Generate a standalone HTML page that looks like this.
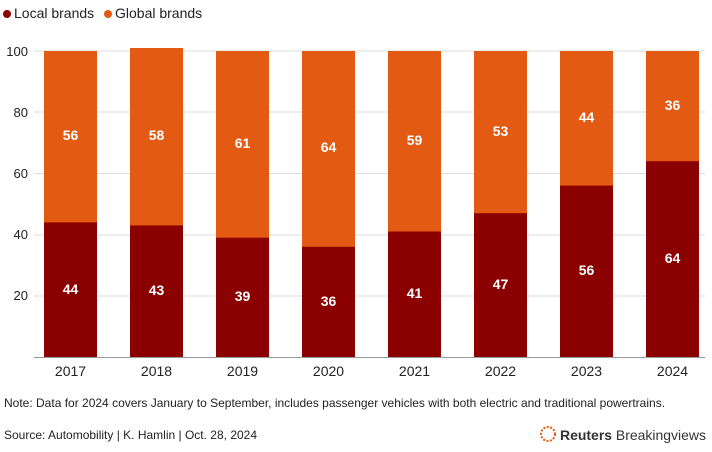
<!DOCTYPE html><html><head><style>body{margin:0;background:#fff}svg{display:block;font-family:"Liberation Sans",Arial,sans-serif}</style></head><body>
<svg width="712" height="452" xmlns="http://www.w3.org/2000/svg">
<circle cx="7" cy="14" r="4" fill="#8b0000"/><text x="14" y="18" font-size="14" fill="#222">Local brands</text>
<circle cx="108" cy="14" r="4" fill="#e35a12"/><text x="115" y="18" font-size="14" fill="#222">Global brands</text>
<g stroke="#ddd" stroke-width="1">
<line x1="34" x2="705" y1="51" y2="51"/><line x1="34" x2="705" y1="112" y2="112"/><line x1="34" x2="705" y1="173.5" y2="173.5"/><line x1="34" x2="705" y1="235" y2="235"/><line x1="34" x2="705" y1="296" y2="296"/></g>
<g font-size="13" fill="#222" text-anchor="end">
<text x="28" y="56">100</text><text x="28" y="117">80</text><text x="28" y="178">60</text><text x="28" y="239">40</text><text x="28" y="300">20</text></g>
<g fill="#e35a12">
<rect x="44" y="51" width="53" height="172"/><rect x="130" y="48" width="53" height="178"/><rect x="216" y="51" width="53" height="187"/><rect x="302" y="51" width="53" height="196"/><rect x="388" y="51" width="53" height="181"/><rect x="474" y="51" width="53" height="163"/><rect x="560" y="51" width="53" height="135"/><rect x="646" y="51" width="53" height="111"/></g>
<g fill="#8b0000">
<rect x="44" y="222.4" width="53" height="134.6"/><rect x="130" y="225.4" width="53" height="131.6"/><rect x="216" y="237.7" width="53" height="119.3"/><rect x="302" y="246.8" width="53" height="110.2"/><rect x="388" y="231.5" width="53" height="125.5"/><rect x="474" y="213.2" width="53" height="143.8"/><rect x="560" y="185.6" width="53" height="171.4"/><rect x="646" y="161.2" width="53" height="195.8"/></g>
<g font-size="14" font-weight="bold" fill="#fff" text-anchor="middle">
<text x="70.5" y="294">44</text><text x="156.5" y="295">43</text><text x="242.5" y="301">39</text><text x="328.5" y="306">36</text><text x="414.5" y="298">41</text><text x="500.5" y="289">47</text><text x="586.5" y="275">56</text><text x="672.5" y="263">64</text>
<text x="70.5" y="140">56</text><text x="156.5" y="140">58</text><text x="242.5" y="148">61</text><text x="328.5" y="152">64</text><text x="414.5" y="145">59</text><text x="500.5" y="136">53</text><text x="586.5" y="122">44</text><text x="672.5" y="110">36</text></g>
<g font-size="14" fill="#222" text-anchor="middle">
<text x="70.5" y="376">2017</text><text x="156.5" y="376">2018</text><text x="242.5" y="376">2019</text><text x="328.5" y="376">2020</text><text x="414.5" y="376">2021</text><text x="500.5" y="376">2022</text><text x="586.5" y="376">2023</text><text x="672.5" y="376">2024</text></g>
<line x1="34" x2="705" y1="357.5" y2="357.5" stroke="#999"/>
<text x="4" y="407" font-size="12" fill="#222">Note: Data for 2024 covers January to September, includes passenger vehicles with both electric and traditional powertrains.</text>
<text x="4" y="439" font-size="12" fill="#222">Source: Automobility | K. Hamlin | Oct. 28, 2024</text>
<circle cx="548" cy="434" r="7" fill="none" stroke="#e35a12" stroke-width="2" stroke-dasharray="2 1.5"/>
<text x="560" y="440" font-size="14" fill="#333" textLength="146" lengthAdjust="spacingAndGlyphs"><tspan font-weight="bold">Reuters</tspan> Breakingviews</text>
</svg></body></html>
